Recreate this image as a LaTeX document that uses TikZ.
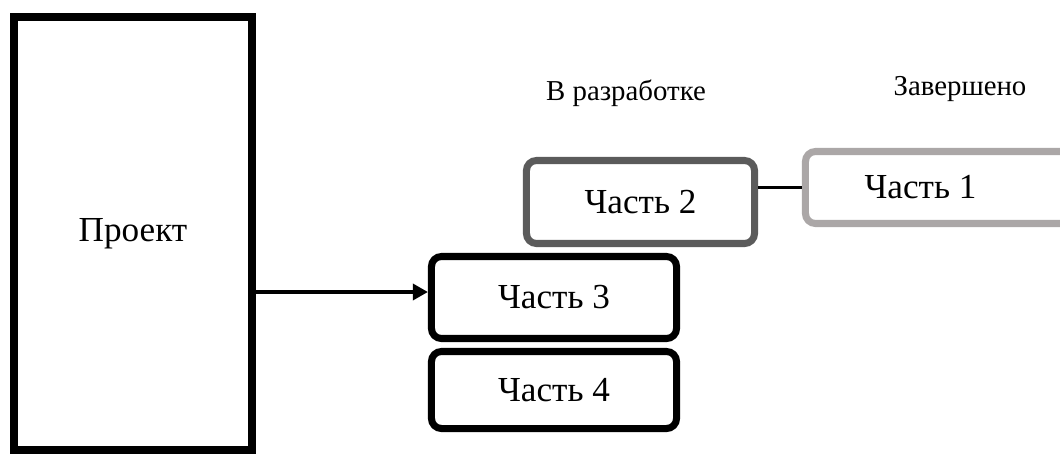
\documentclass[tikz,border=0pt]{standalone}
\usepackage{fontspec}
\setmainfont{Liberation Serif}
\newfontfamily\ruserif{Liberation Serif}
\usetikzlibrary{arrows.meta}
\definecolor{darkpart}{HTML}{5B5B5B}
\definecolor{lightpart}{HTML}{ABA7A7}

\begin{document}
\begin{tikzpicture}[x=0.025cm, y=-0.025cm, font=\ruserif\fontsize{25}{30}\selectfont,
	project/.style={draw, line width=5.7pt, minimum width=5.95cm, minimum height=10.825cm},
	part/.style={draw, line width=5pt, rounded corners=0.25cm},
	status/.style={font=\ruserif\fontsize{20.5}{24}\selectfont}]
	\useasboundingbox (0,0) rectangle (1060,454);
	%project
	\node[project] (project) at (133,233.5) {Проект};
	%parts
	\node[part, darkpart, text=black, minimum width=5.7cm, minimum height=2.075cm] (part2) at (640.5,202) {Часть 2};
	\node[part, lightpart, text=black, minimum width=7.5cm, minimum height=1.8cm] (part1) at (955.5,187.5) {Часть 1\hspace*{1.75cm}};
	\node[part, minimum width=6.125cm, minimum height=2.05cm] (part3) at (554,297.5) {Часть 3};
	\node[part, minimum width=6.125cm, minimum height=1.925cm] (part4) at (554,390) {Часть 4};
	%status
	\node[status] (dev) at (626,93) {В разработке};
	\node[status] (done) at (960,89) {Завершено};
	%links
	\draw[line width=2.8pt, -{Triangle[length=0.38cm, width=0.4cm]}]
	([yshift=0.1375cm]project.east |- part3.west) -- ([yshift=0.1375cm]part3.west);
	\draw[line width=2.8pt] (part2.east |- part1.west) -- (part1.west);
\end{tikzpicture}
\end{document}
